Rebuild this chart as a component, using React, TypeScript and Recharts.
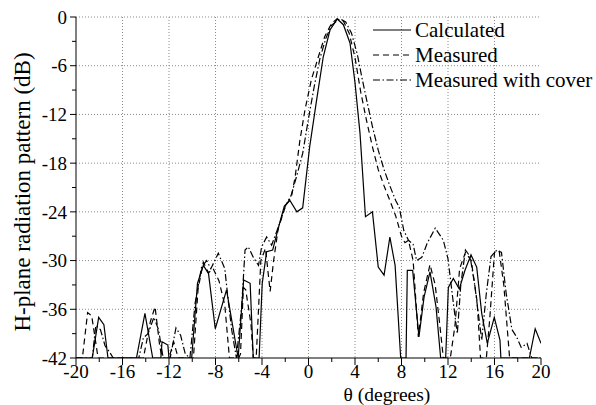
import { LineChart, Line, XAxis, YAxis, CartesianGrid } from 'recharts';

// Calculated (solid)
const calcAngle = [
	-20, -18.6, -18.05, -17.6, -17.25, -14.8, -14.07, -13.4, -12.7, -12.6, -12.1, -12.0,
	-10.05, -9.55, -9.05, -8.6, -8.02, -7.05, -6.05, -5.58, -5.02, -4.75, -4.25, -3.98,
	-3.6, -3.08, -2.6, -2.08, -1.6, -1.0, -0.5, 0.1, 0.7, 1.27, 1.85, 2.48, 3.0, 3.57,
	4.0, 4.43, 4.9, 5.5, 6.0, 6.5, 7.0, 7.45, 7.93, 8.39, 8.5, 8.96, 9.5, 9.94, 10.45,
	10.97, 11.37, 11.8, 12.03, 12.46, 12.97, 13.46, 13.98, 14.47, 14.9, 15.38, 15.98,
	16.47, 16.55, 19.0, 19.5, 20,
];
const calcDb = [
	-42, -42, -37, -37.9, -42, -42, -36.5, -42, -42, -40, -40.4, -42,
	-42, -32.8, -30.6, -31.6, -38.4, -33.6, -42, -32.4, -32.8, -42, -42, -32.8,
	-28.9, -28.7, -26.0, -23.3, -22.6, -24.0, -23.5, -16, -10.2, -4.9, -1.6, -0.25, -0.95, -3.2,
	-8.1, -14.3, -24.6, -24.0, -30.8, -31.8, -27.1, -30.6, -42, -42, -31.2, -31.2, -39.4, -34.5, -31.4,
	-35.7, -42, -42, -33.3, -32.2, -33.5, -31.2, -29.3, -30.8, -36.5, -40.2, -37.0,
	-39.8, -42, -42, -38.4, -40.2,
];

// Measured (dashed)
const measAngle = [
	-20, -19.45, -19.0, -18.65, -18.1, -14.2, -13.6, -13.2, -12.8, -12.6, -12.0, -11.6, -11.2,
	-9.9, -9.5, -9.05, -8.6, -8.2, -7.7, -7.2, -6.8, -6.0, -5.85, -5.6, -5.4, -4.95, -4.75,
	-4.5, -4.1, -3.7, -3.3, -3.0, -2.6, -2.0, -1.45, -1.15, -0.75, -0.3, 0.25, 0.85, 1.4,
	2.0, 2.45, 3.0, 3.5, 4.0, 4.5, 5.0, 5.5, 6.0, 6.5, 7.0, 7.5, 8.0, 8.3, 8.6, 9.0, 9.45,
	9.9, 10.45, 10.9, 11.3, 11.6, 12.2, 12.6, 13.0, 13.5, 14.0, 14.5, 14.8, 15.3, 15.6,
	16.0, 16.4, 16.8, 17.3, 20,
];
const measDb = [
	-42, -42, -36.4, -36.8, -42, -42, -37.5, -35.7, -40.5, -42, -42, -40, -42,
	-42, -33.5, -30.2, -31.5, -31, -32.5, -35.5, -42, -42, -41.5, -33.3, -33.6, -37.8, -42,
	-42, -30, -28.5, -33.8, -30, -26, -23.4, -22, -19.7, -15.3, -11.4, -7.7, -4.9, -2.4,
	-0.75, -0.25, -0.5, -2, -5, -9.3, -12.8, -16, -18.8, -20.8, -22.6, -24.5, -27, -27.8, -27.5, -30, -39.4,
	-34, -30.5, -33, -38, -42, -42, -38, -31, -29, -30, -35, -42, -42, -37,
	-29, -28.8, -33, -42, -42,
];

// Measured with cover (dash-dot)
const coverAngle = [
	-20, -18.6, -18.3, -17.9, -17.5, -17.1, -16.8, -14.6, -14.2, -13.8, -13.3, -12.9, -12.5,
	-11.9, -11.4, -11.0, -10.6, -10.2, -9.76, -9.2, -8.76, -8.4, -7.76, -7.2, -6.9, -6.6, -6.2,
	-5.75, -5.46, -5.18, -4.75, -4.3, -4.03, -3.6, -3.17, -2.5, -2.0, -1.5, -1.0, -0.5, 0,
	0.5, 1.0, 1.5, 2.0, 2.7, 3.2, 3.7, 4.2, 4.6, 5.0, 5.5, 6.0, 6.5, 7.0, 7.5, 7.8, 8.2,
	8.6, 9.0, 9.3, 9.75, 10.2, 10.9, 11.6, 12.0, 12.5, 12.8, 13.1, 13.5, 13.9, 14.3, 14.9,
	15.3, 15.7, 16.2, 16.6, 17.0, 17.5, 17.9, 18.3, 18.8, 19.2, 20,
];
const coverDb = [
	-42, -42, -38, -38.5, -40.5, -41.3, -42, -42, -39.5, -39, -37, -38.5, -42,
	-42, -38.3, -39.2, -41.5, -42, -35.3, -30.8, -30, -31, -29.1, -31, -35, -38.6, -42,
	-35.7, -28.7, -28.3, -29.6, -30.6, -28.3, -27.1, -28.1, -25.5, -23.3, -22, -19.5, -16.8, -12.5,
	-8.5, -5, -2.6, -1.0, -0.2, -0.6, -2, -4.6, -7.5, -10.2, -13.5, -16.4, -18.8, -20.8, -22.6, -23.4, -26.3,
	-27.5, -28, -30, -29.6, -27.9, -26, -27.5, -29.8, -35.7, -39, -33, -28.7, -29.5, -33, -39.8,
	-34, -29.5, -28.7, -29, -34, -38.5, -39.4, -40.7, -40.2, -42, -42,
];

const xTicks = [-20, -18, -16, -14, -12, -10, -8, -6, -4, -2, 0, 2, 4, 6, 8, 10, 12, 14, 16, 18, 20];
const yTicks = [-42, -39, -36, -33, -30, -27, -24, -21, -18, -15, -12, -9, -6, -3, 0];
const xGrid = [-16, -12, -8, -4, 0, 4, 8, 12, 16];
const yGrid = [-36, -30, -24, -18, -12, -6, 0];

const seriesNames = ['Calculated', 'Measured', 'Measured with cover'];
const seriesDash = ['', '6 4', '7 2.5 1.5 2.5'];

const toRows = (xs: number[], ys: number[]) => xs.map((x, i) => ({ x, y: ys[i] }));

const FONT = "'Liberation Serif', 'Times New Roman', serif";
const TICK_SIZE = 6;
const TICK_MARGIN = 2;

function XTick({ x, y, payload }: any) {
	const major = payload.value % 4 === 0;
	const axisY = y - TICK_SIZE - TICK_MARGIN;
	return (
		<g>
			<line x1={x} x2={x} y1={axisY} y2={axisY + (major ? 7 : 4)} stroke="#000" />
			{major && (
				<text x={x} y={axisY + 7} dy="0.71em" textAnchor="middle" fontSize={19} fontFamily={FONT} fill="#000">
					{payload.value}
				</text>
			)}
		</g>
	);
}

function YTick({ x, y, payload }: any) {
	const major = payload.value % 6 === 0;
	const axisX = x + TICK_SIZE + TICK_MARGIN;
	return (
		<g>
			<line x1={axisX} x2={axisX - (major ? 6 : 4)} y1={y} y2={y} stroke="#000" />
			{major && (
				<text x={axisX - 9} y={y} dy="0.35em" textAnchor="end" fontSize={19} fontFamily={FONT} fill="#000">
					{payload.value}
				</text>
			)}
		</g>
	);
}

export default function App() {
	const series = [
		toRows(calcAngle, calcDb),
		toRows(measAngle, measDb),
		toRows(coverAngle, coverDb),
	];

	return (
		<div style={{ position: 'relative', width: 596, height: 405 }}>
			<style>{'body { margin: 0; background: #fff; }'}</style>
			<LineChart width={596} height={405} margin={{ top: 17, right: 55, bottom: 17, left: 16 }}>
				<CartesianGrid
					horizontalValues={yGrid}
					verticalValues={xGrid}
					stroke="#8a8a8a"
					strokeDasharray="1 2"
				/>
				<XAxis
					type="number"
					dataKey="x"
					domain={[-20, 20]}
					ticks={xTicks}
					interval={0}
					height={30}
					tickSize={TICK_SIZE}
					tickMargin={TICK_MARGIN}
					tickLine={false}
					tick={<XTick />}
					axisLine={{ stroke: '#000' }}
					allowDataOverflow
				/>
				<YAxis
					type="number"
					dataKey="y"
					domain={[-42, 0]}
					ticks={yTicks}
					interval={0}
					width={60}
					tickSize={TICK_SIZE}
					tickMargin={TICK_MARGIN}
					tickLine={false}
					tick={<YTick />}
					axisLine={{ stroke: '#000' }}
					allowDataOverflow
				/>
				{series.map((rows, i) => (
					<Line
						key={seriesNames[i]}
						data={rows}
						dataKey="y"
						name={seriesNames[i]}
						type="linear"
						stroke="#000"
						strokeWidth={1.2}
						strokeDasharray={seriesDash[i] || undefined}
						dot={false}
						activeDot={false}
						isAnimationActive={false}
					/>
				))}
			</LineChart>

			{/* Legend and axis titles */}
			<svg
				width={596}
				height={405}
				style={{ position: 'absolute', left: 0, top: 0, pointerEvents: 'none' }}
			>
				{seriesNames.map((name, i) => (
					<g key={name}>
						<line
							x1={373}
							x2={411}
							y1={30 + i * 25}
							y2={30 + i * 25}
							stroke="#000"
							strokeWidth={1.2}
							strokeDasharray={seriesDash[i] || undefined}
						/>
						<text x={415} y={30 + i * 25} dy="0.35em" fontSize={21} fontFamily={FONT} fill="#000">
							{name}
						</text>
					</g>
				))}
				<text x={387} y={401} textAnchor="middle" fontSize={19.5} fontFamily={FONT} fill="#000">
					θ (degrees)
				</text>
				<text
					x={22}
					y={192}
					dy="0.35em"
					textAnchor="middle"
					transform="rotate(-90 22 192)"
					fontSize={23}
					fontFamily={FONT}
					fill="#000"
				>
					H-plane radiation pattern (dB)
				</text>
			</svg>
		</div>
	);
}
